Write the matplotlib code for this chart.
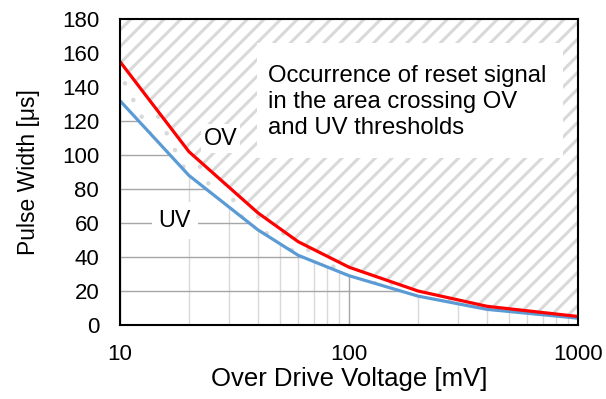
import matplotlib
matplotlib.use("Agg")
import matplotlib.pyplot as plt
import numpy as np

plt.rcParams['font.family'] = ['Liberation Sans', 'DejaVu Sans']

# data
drive_mv = [10, 20, 40, 60, 100, 200, 400, 1000]
ov_width = [155, 102, 66, 49, 34, 20, 11, 5]
uv_width = [132, 88, 56, 41, 29, 17, 9.2, 4]
y_ticks = [0, 20, 40, 60, 80, 100, 120, 140, 160, 180]
x_ticks = [10, 100, 1000]

fig = plt.figure(figsize=(6.06, 3.99), dpi=100)
ax = fig.add_axes([0.198, 0.1855, 0.756, 0.7665])

ax.set_xscale('log')
ax.set_xlim(10, 1000)
ax.set_ylim(0, 180)

# grid
ax.set_axisbelow(True)
ax.grid(True, which='major', axis='y', color='#a6a6a6', linewidth=1.0, zorder=0)
ax.grid(True, which='major', axis='x', color='#a6a6a6', linewidth=1.0, zorder=0)
ax.grid(True, which='minor', axis='x', color='#d9d9d9', linewidth=1.0, zorder=0)

# hatched region above OV
plt.rcParams['hatch.linewidth'] = 2.2
h1 = ax.fill_between(drive_mv, ov_width, 180, facecolor='white', edgecolor='#d9d9d9',
                     hatch='//', linewidth=0, zorder=1)
# dotted region between UV and OV
plt.rcParams['hatch.linewidth'] = 0.8
h2 = ax.fill_between(drive_mv, uv_width, ov_width, facecolor='white', edgecolor='#d9d9d9',
                     hatch='.', linewidth=0, zorder=1)

ax.plot(drive_mv, uv_width, color='#5b9bd5', linewidth=2.3, zorder=3,
        solid_joinstyle='round')
ax.plot(drive_mv, ov_width, color='#ff0000', linewidth=2.3, zorder=4,
        solid_joinstyle='round')

# text box
ax.add_patch(plt.Rectangle((0.299, 0.546), 0.668, 0.376, transform=ax.transAxes,
                           facecolor='white', edgecolor='none', zorder=2))
ax.text(0.323, 0.729, "Occurrence of reset signal\nin the area crossing OV\nand UV thresholds",
        transform=ax.transAxes, fontsize=17.2, va='center', ha='left',
        linespacing=1.22, zorder=5)

ax.text(0.219, 0.61, "OV", transform=ax.transAxes, fontsize=16.8, ha='center', va='center',
        zorder=5, bbox=dict(facecolor='white', edgecolor='none', pad=2))
ax.text(0.12, 0.342, "UV", transform=ax.transAxes, fontsize=16.8, ha='center', va='center',
        zorder=5, bbox=dict(facecolor='white', edgecolor='none', pad=5))

ax.set_yticks(y_ticks)
ax.set_xticks(x_ticks)
ax.set_xticklabels([str(v) for v in x_ticks])
ax.xaxis.set_minor_formatter(matplotlib.ticker.NullFormatter())
ax.tick_params(axis='both', which='both', length=0, labelsize=16)
ax.tick_params(axis='x', pad=14)
ax.tick_params(axis='y', pad=15)

for s in ax.spines.values():
    s.set_linewidth(1.5)
    s.set_color('black')
    s.set_zorder(6)

ax.set_xlabel("Over Drive Voltage [mV]", fontsize=18.5, labelpad=1)
ax.set_ylabel("Pulse Width [μs]", fontsize=16.5, labelpad=16)

fig.savefig("out.png", dpi=100)
